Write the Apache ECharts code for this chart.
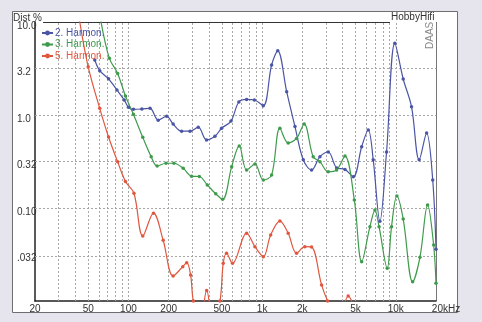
<!DOCTYPE html>
<html>
<head>
<meta charset="utf-8">
<script src="https://cdn.jsdelivr.net/npm/echarts@6/dist/echarts.min.js"></script>
<style>
  html, body { margin: 0; padding: 0; background: #e6e5ee; }
  #chart { width: 482px; height: 322px; }
</style>
</head>
<body>
<div id="chart"></div>
<script>
// 2. Harmonic (blue)
const h2Freq = [56, 61, 71, 82, 93, 100, 109, 126, 145, 167, 193, 216, 250, 289, 333, 384, 444, 498, 585, 670,
  766, 875, 1021, 1178, 1310, 1527, 1762, 2032, 2345, 2709, 3126, 3611, 4169, 4814, 5558, 6227, 6781, 7605,
  8533, 9842, 11370, 13120, 14960, 17010, 18900, 20000];
const h2Dist = [3.9, 3.0, 2.45, 1.86, 1.45, 1.21, 1.15, 1.16, 1.18, 0.88, 0.97, 0.80, 0.67, 0.67, 0.74, 0.54, 0.59, 0.72, 0.86, 1.38,
  1.47, 1.45, 1.26, 3.45, 4.9, 1.78, 0.75, 0.33, 0.256, 0.356, 0.40, 0.27, 0.26, 0.217, 0.456, 0.69, 0.33, 0.072,
  0.40, 5.9, 2.44, 1.23, 0.33, 0.64, 0.2, 0.036];

// 3. Harmonic (green)
const h3Freq = [62, 72, 83, 95, 109, 128, 148, 164, 191, 219, 257, 297, 339, 389, 450, 507, 592, 675, 766, 884,
  1021, 1178, 1359, 1568, 1811, 2064, 2411, 2709, 3126, 3611, 4169, 4898, 5558, 6412, 6986, 7500, 8630, 9300,
  10190, 11370, 13370, 15170, 17310, 19200, 20000];
const h3Dist = [10.5, 4.07, 2.8, 1.6, 1.02, 0.575, 0.356, 0.283, 0.303, 0.303, 0.267, 0.22, 0.218, 0.177, 0.142, 0.124, 0.278, 0.465, 0.256, 0.297,
  0.20, 0.226, 0.72, 0.50, 0.56, 0.80, 0.356, 0.315, 0.245, 0.256, 0.362, 0.122, 0.0265, 0.063, 0.095, 0.063, 0.0225, 0.063,
  0.135, 0.076, 0.0161, 0.0295, 0.108, 0.04, 0.0155];

// 5. Harmonic (red)
const h5Freq = [43, 50, 61, 71, 83, 95, 110, 128, 154, 182, 216, 255, 273, 292, 306, 345, 385, 430, 484, 512,
  542, 601, 766, 884, 1021, 1159, 1359, 1568, 1811, 2089, 2345, 2786, 3093, 3700, 4406, 5200];
const h5Dist = [10.5, 3.3, 1.18, 0.58, 0.315, 0.193, 0.144, 0.05, 0.088, 0.045, 0.0186, 0.0234, 0.0258, 0.019, 0.01, 0.006, 0.013, 0.006, 0.01, 0.0254,
  0.0326, 0.0254, 0.0535, 0.0384, 0.030, 0.0513, 0.0724, 0.0535, 0.0326, 0.0384, 0.038, 0.0149, 0.01, 0.006, 0.0113, 0.006];

// axis ticks and grid
const xTickVals = [20, 50, 100, 200, 500, 1000, 2000, 5000, 10000, 20000];
const xTickLabels = ['20', '50', '100', '200', '500', '1k', '2k', '5k', '10k', '20kHz'];
const yTickVals = [0.032, 0.1, 0.32, 1, 3.2, 10];
const yTickLabels = ['.032', '0.10', '0.32', '1.0', '3.2', '10.0'];
const xGridVals = [30, 40, 50, 60, 70, 80, 90, 100, 200, 300, 400, 500, 600, 700, 800, 900,
  1000, 2000, 3000, 4000, 5000, 6000, 7000, 8000, 9000, 10000];
const yGridVals = [0.032, 0.1, 0.32, 1, 3.2];

const FONT = 'Liberation Sans';

function nearestLabel(v, vals, labels) {
  let best = 0;
  for (let i = 1; i < vals.length; i++) {
    if (Math.abs(Math.log(v / vals[i])) < Math.abs(Math.log(v / vals[best]))) best = i;
  }
  return labels[best];
}

function curve(name, color, freqs, vals) {
  return {
    name: name,
    type: 'line',
    smooth: 0.35,
    z: 3,
    clip: true,
    data: freqs.map((f, i) => [f, vals[i]]),
    symbol: 'circle',
    symbolSize: 3.5,
    itemStyle: { color: color },
    lineStyle: { color: color, width: 1.2 },
    emphasis: { disabled: true }
  };
}

const chart = echarts.init(document.getElementById('chart'));

chart.setOption({
  animation: false,
  backgroundColor: '#e6e5ee',
  textStyle: { fontFamily: FONT },
  grid: { left: 35, top: 22, right: 46, bottom: 21, containLabel: false },
  legend: {
    orient: 'vertical',
    left: 36,
    top: 23,
    itemWidth: 11,
    itemHeight: 6,
    itemGap: 1.5,
    textStyle: { fontSize: 10, fontFamily: FONT, padding: [0, 0, 0, -3] },
    data: [
      { name: '2. Harmon.', textStyle: { color: '#4b55a5' } },
      { name: '3. Harmon.', textStyle: { color: '#3f9b4c' } },
      { name: '5. Harmon.', textStyle: { color: '#e0573f' } }
    ]
  },
  xAxis: {
    type: 'log',
    logBase: 10,
    min: 20,
    max: 20000,
    axisLine: { show: true, lineStyle: { color: '#222', width: 1.5 } },
    axisTick: { show: false },
    splitLine: { show: false },
    axisLabel: {
      customValues: xTickVals,
      margin: 3,
      fontSize: 10,
      color: '#333',
      formatter: v => {
        const s = nearestLabel(v, xTickVals, xTickLabels);
        return s === '20kHz' ? '{e|' + s + '}' : s;
      },
      rich: { e: { fontSize: 10, color: '#333', padding: [0, 0, 0, 20] } }
    }
  },
  yAxis: {
    type: 'log',
    logBase: 10,
    min: 0.01,
    max: 10,
    axisLine: { show: true, lineStyle: { color: '#222', width: 1.5 } },
    axisTick: { show: false },
    splitLine: { show: false },
    axisLabel: {
      customValues: yTickVals,
      align: 'left',
      margin: 18,
      fontSize: 10,
      color: '#333',
      formatter: v => '{t|' + nearestLabel(v, yTickVals, yTickLabels) + '}',
      rich: { t: { fontSize: 10, color: '#333', padding: [8, 0, 0, 0] } }
    }
  },
  graphic: [
    { type: 'rect', z: -10, silent: true,
      shape: { x: 12.5, y: 11.5, width: 445, height: 301 },
      style: { fill: '#ffffff', stroke: '#6e6e6e', lineWidth: 1 } },
    { type: 'line', silent: true,
      shape: { x1: 43, y1: 22.5, x2: 390, y2: 22.5 },
      style: { stroke: '#333', lineWidth: 1 } },
    { type: 'line', silent: true,
      shape: { x1: 436.5, y1: 22, x2: 436.5, y2: 301 },
      style: { stroke: '#777', lineWidth: 1 } },
    { type: 'text', silent: true, left: 13, top: 13,
      style: { text: 'Dist %', fontSize: 10, fontFamily: FONT, fill: '#333' } },
    { type: 'text', silent: true, left: 391, top: 12,
      style: { text: 'HobbyHifi', fontSize: 10, fontFamily: FONT, fill: '#333' } },
    { type: 'text', silent: true, x: 425, y: 49, rotation: Math.PI / 2,
      style: { text: 'DAAS', fontSize: 10, fontFamily: FONT, fill: '#888' } }
  ],
  series: [
    {
      name: 'grid',
      type: 'line',
      data: [],
      z: 1,
      silent: true,
      markLine: {
        z: 1,
        silent: true,
        symbol: ['none', 'none'],
        label: { show: false },
        emphasis: { disabled: true },
        lineStyle: { type: [2, 2], color: '#a8a8a8', width: 1 },
        data: xGridVals.map(f => ({ xAxis: f })).concat(yGridVals.map(v => ({ yAxis: v })))
      }
    },
    curve('2. Harmon.', '#4b55a5', h2Freq, h2Dist),
    curve('3. Harmon.', '#3f9b4c', h3Freq, h3Dist),
    curve('5. Harmon.', '#e0573f', h5Freq, h5Dist)
  ]
});
</script>
</body>
</html>
